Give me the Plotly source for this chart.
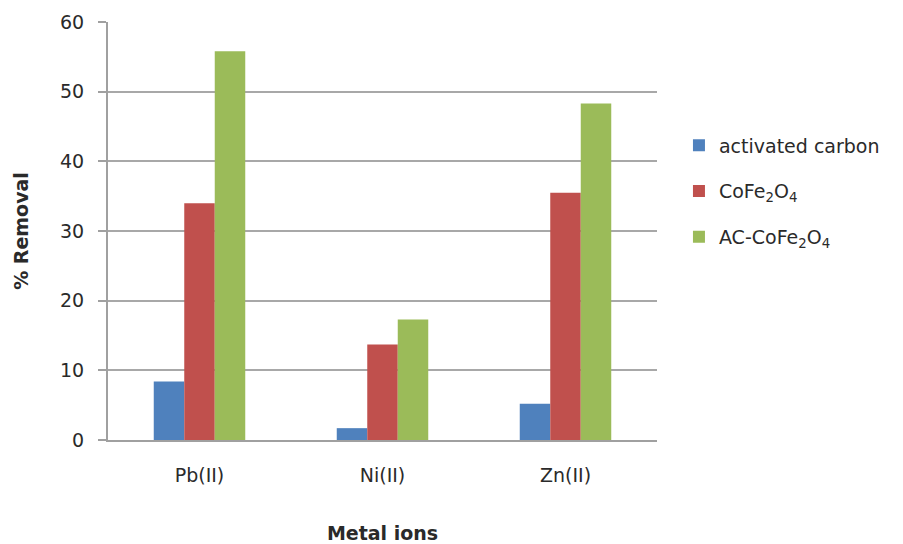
import plotly.graph_objects as go

metal_ions = ["Pb(II)", "Ni(II)", "Zn(II)"]
activated_carbon = [8.4, 1.7, 5.2]
cofe2o4 = [34.0, 13.7, 35.5]
ac_cofe2o4 = [55.8, 17.3, 48.3]

series = [
    ("activated carbon", activated_carbon, "#4F81BD"),
    ("CoFe<sub>2</sub>O<sub>4</sub>", cofe2o4, "#C0504D"),
    ("AC-CoFe<sub>2</sub>O<sub>4</sub>", ac_cofe2o4, "#9BBB59"),
]

fig = go.Figure()
for i, (name, vals, color) in enumerate(series):
    fig.add_trace(go.Bar(
        x=metal_ions, y=vals, name=name, legendgroup=f"g{i}",
        marker=dict(color=color, line=dict(width=0)),
    ))

font_family = "DejaVu Sans, Verdana, sans-serif"
fig.update_layout(
    width=903, height=544,
    margin=dict(l=108, r=246, t=22, b=104),
    paper_bgcolor="white", plot_bgcolor="white",
    barmode="group", bargap=0.5, bargroupgap=0,
    font=dict(family=font_family, size=19, color="#2a2a2a"),
    showlegend=True,
    legend=dict(
        x=1.04, y=0.75, xanchor="left", yanchor="top",
        font=dict(size=19, color="#2a2a2a"),
        tracegroupgap=18, itemwidth=30,
    ),
    xaxis=dict(
        automargin=False,
        showline=True, linecolor="#a0a0a0", linewidth=2,
        ticks="", showgrid=False,
        ticklabelstandoff=17,
        title=dict(text="<b>Metal ions</b>", font=dict(size=19), standoff=52),
    ),
    yaxis=dict(
        automargin=False,
        range=[0, 60], tickvals=[0, 10, 20, 30, 40, 50, 60],
        showline=True, linecolor="#a0a0a0", linewidth=2,
        ticks="outside", ticklen=8, tickcolor="#a0a0a0", tickwidth=2,
        showgrid=True, gridcolor="#a8a8a8", gridwidth=2,
        zeroline=False,
        ticklabelstandoff=10,
        title=dict(text="<b>% Removal</b>", font=dict(size=19), standoff=26),
    ),
)

fig.write_html("out.html")
